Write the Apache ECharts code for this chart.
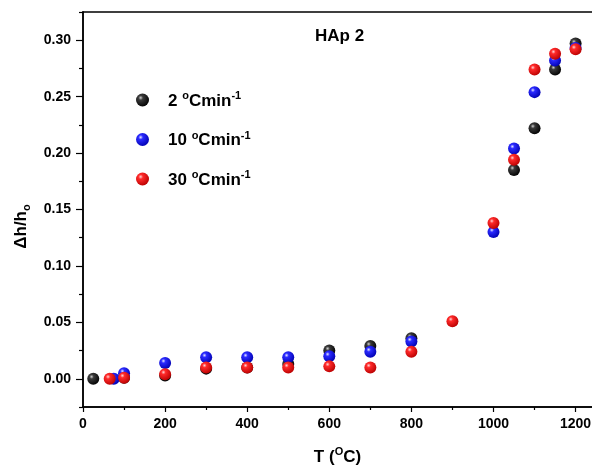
<!DOCTYPE html>
<html>
<head>
<meta charset="utf-8">
<script src="https://cdn.jsdelivr.net/npm/echarts@6/dist/echarts.min.js"></script>
<style>html,body{margin:0;padding:0;background:#fff;}#c{width:592px;height:465px;}</style>
</head>
<body>
<div id="c"></div>
<script>
// Data
var seriesNames = ['2', '10', '30'];
var T2 = [25, 100, 200, 300, 400, 500, 600, 700, 800, 1050, 1100, 1150, 1200];
var D2 = [0.000, 0.001, 0.003, 0.009, 0.010, 0.013, 0.025, 0.029, 0.036, 0.185, 0.222, 0.274, 0.297];
var T10 = [75, 100, 200, 300, 400, 500, 600, 700, 800, 1000, 1050, 1100, 1150, 1200];
var D10 = [0.000, 0.005, 0.014, 0.019, 0.019, 0.019, 0.020, 0.024, 0.033, 0.130, 0.204, 0.254, 0.282, 0.293];
var T30 = [65, 100, 200, 300, 400, 500, 600, 700, 800, 900, 1000, 1050, 1100, 1150, 1200];
var D30 = [0.000, 0.001, 0.004, 0.010, 0.010, 0.010, 0.011, 0.010, 0.024, 0.051, 0.138, 0.194, 0.274, 0.288, 0.292];
var xTickLabels = [0, 200, 400, 600, 800, 1000, 1200];
var xMinorTicks = [100, 300, 500, 700, 900, 1100];
var yTickLabels = [0, 0.05, 0.10, 0.15, 0.20, 0.25, 0.30];
var yMinorTicks = [-0.025, 0.025, 0.075, 0.125, 0.175, 0.225, 0.275, 0.325];

function zip(a, b) { return a.map(function (v, i) { return [v, b[i]]; }); }
function sphere(light, mid, dark) {
  return { type: 'radial', x: 0.36, y: 0.33, r: 0.72,
    colorStops: [{ offset: 0, color: light }, { offset: 0.25, color: mid }, { offset: 1, color: dark }] };
}
var colors = [sphere('#d0d0d0', '#3a3a3a', '#000000'), sphere('#e6e6ff', '#2a2aff', '#0000b0'), sphere('#ffd6d6', '#ff2a2a', '#b80000')];
var dataSets = [zip(T2, D2), zip(T10, D10), zip(T30, D30)];

var font = 'Liberation Sans, Arial, sans-serif';
var chart = echarts.init(document.getElementById('c'), null, { renderer: 'canvas' });
var axisLine = { show: true, onZero: false, lineStyle: { color: '#000', width: 1.5 } };

var option = {
  animation: false,
  backgroundColor: '#fff',
  title: { text: 'HAp 2', left: 315, top: 28, padding: 0,
    textStyle: { fontFamily: font, fontWeight: 'bold', fontSize: 17, color: '#000' } },
  grid: { left: 83, top: 12, right: 0, bottom: 58, outerBoundsMode: 'none', containLabel: false },
  legend: {
    orient: 'vertical', left: 131, top: 85.5, itemWidth: 13, itemHeight: 13, itemGap: 20.5,
    icon: 'circle',
    data: seriesNames,
    formatter: function (n) { return '{n|' + n + ' }{s|o}{n|Cmin}{s|-1}'; },
    textStyle: {
      fontFamily: font, color: '#000', padding: [0, 0, 0, 14],
      rich: {
        n: { fontFamily: font, fontWeight: 'bold', fontSize: 17, color: '#000', lineHeight: 19, verticalAlign: 'bottom' },
        s: { fontFamily: font, fontWeight: 'bold', fontSize: 11, color: '#000', lineHeight: 19, verticalAlign: 'top' }
      }
    }
  },
  xAxis: [{
    type: 'value', min: 0, max: 1240, position: 'bottom',
    name: '{n|T (}{s|O}{n|C)}', nameLocation: 'middle', nameGap: 39,
    nameTextStyle: { rich: {
      n: { fontFamily: font, fontWeight: 'bold', fontSize: 17, color: '#000', lineHeight: 20, verticalAlign: 'bottom' },
      s: { fontFamily: font, fontWeight: 'bold', fontSize: 11, color: '#000', lineHeight: 20, verticalAlign: 'top' } } },
    axisLine: axisLine,
    axisTick: { show: true, inside: false, length: 5, lineStyle: { color: '#000', width: 1.2 }, customValues: xTickLabels },
    axisLabel: { show: true, margin: 10, fontFamily: font, fontWeight: 'bold', fontSize: 14, color: '#000',
      customValues: xTickLabels, formatter: function (v) { return String(v); } },
    splitLine: { show: false }
  }, {
    type: 'value', min: 0, max: 1240, position: 'bottom',
    axisLine: axisLine,
    axisTick: { show: true, inside: false, length: 3, lineStyle: { color: '#000', width: 1.2 }, customValues: xMinorTicks },
    axisLabel: { show: false }, splitLine: { show: false }
  }, {
    type: 'value', min: 0, max: 1240, position: 'top',
    axisLine: axisLine, axisTick: { show: false }, axisLabel: { show: false }, splitLine: { show: false }
  }],
  yAxis: [{
    type: 'value', min: -0.025, max: 0.325, position: 'left',
    name: '{n|\u0394h/h}{s|o}', nameLocation: 'middle', nameGap: 43, nameRotate: 90,
    nameTextStyle: { padding: [0, 34, 0, 0], rich: {
      n: { fontFamily: font, fontWeight: 'bold', fontSize: 17, color: '#000', lineHeight: 20, verticalAlign: 'top' },
      s: { fontFamily: font, fontWeight: 'bold', fontSize: 11, color: '#000', lineHeight: 20, verticalAlign: 'bottom' } } },
    axisLine: axisLine,
    axisTick: { show: true, inside: false, length: 7, lineStyle: { color: '#000', width: 1.2 }, customValues: yTickLabels },
    axisLabel: { show: true, margin: 12, fontFamily: font, fontWeight: 'bold', fontSize: 14, color: '#000',
      customValues: yTickLabels, formatter: function (v) { return v.toFixed(2); } },
    splitLine: { show: false }
  }, {
    type: 'value', min: -0.025, max: 0.325, position: 'left',
    axisLine: axisLine,
    axisTick: { show: true, inside: false, length: 4, lineStyle: { color: '#000', width: 1.2 }, customValues: yMinorTicks },
    axisLabel: { show: false }, splitLine: { show: false }
  }],
  series: seriesNames.map(function (n, i) {
    return {
      name: n, type: 'scatter', xAxisIndex: 0, yAxisIndex: 0,
      data: dataSets[i], symbol: 'circle', symbolSize: 12,
      itemStyle: { color: colors[i], opacity: 1 },
      z: 2 + i
    };
  })
};
chart.setOption(option);
</script>
</body>
</html>
